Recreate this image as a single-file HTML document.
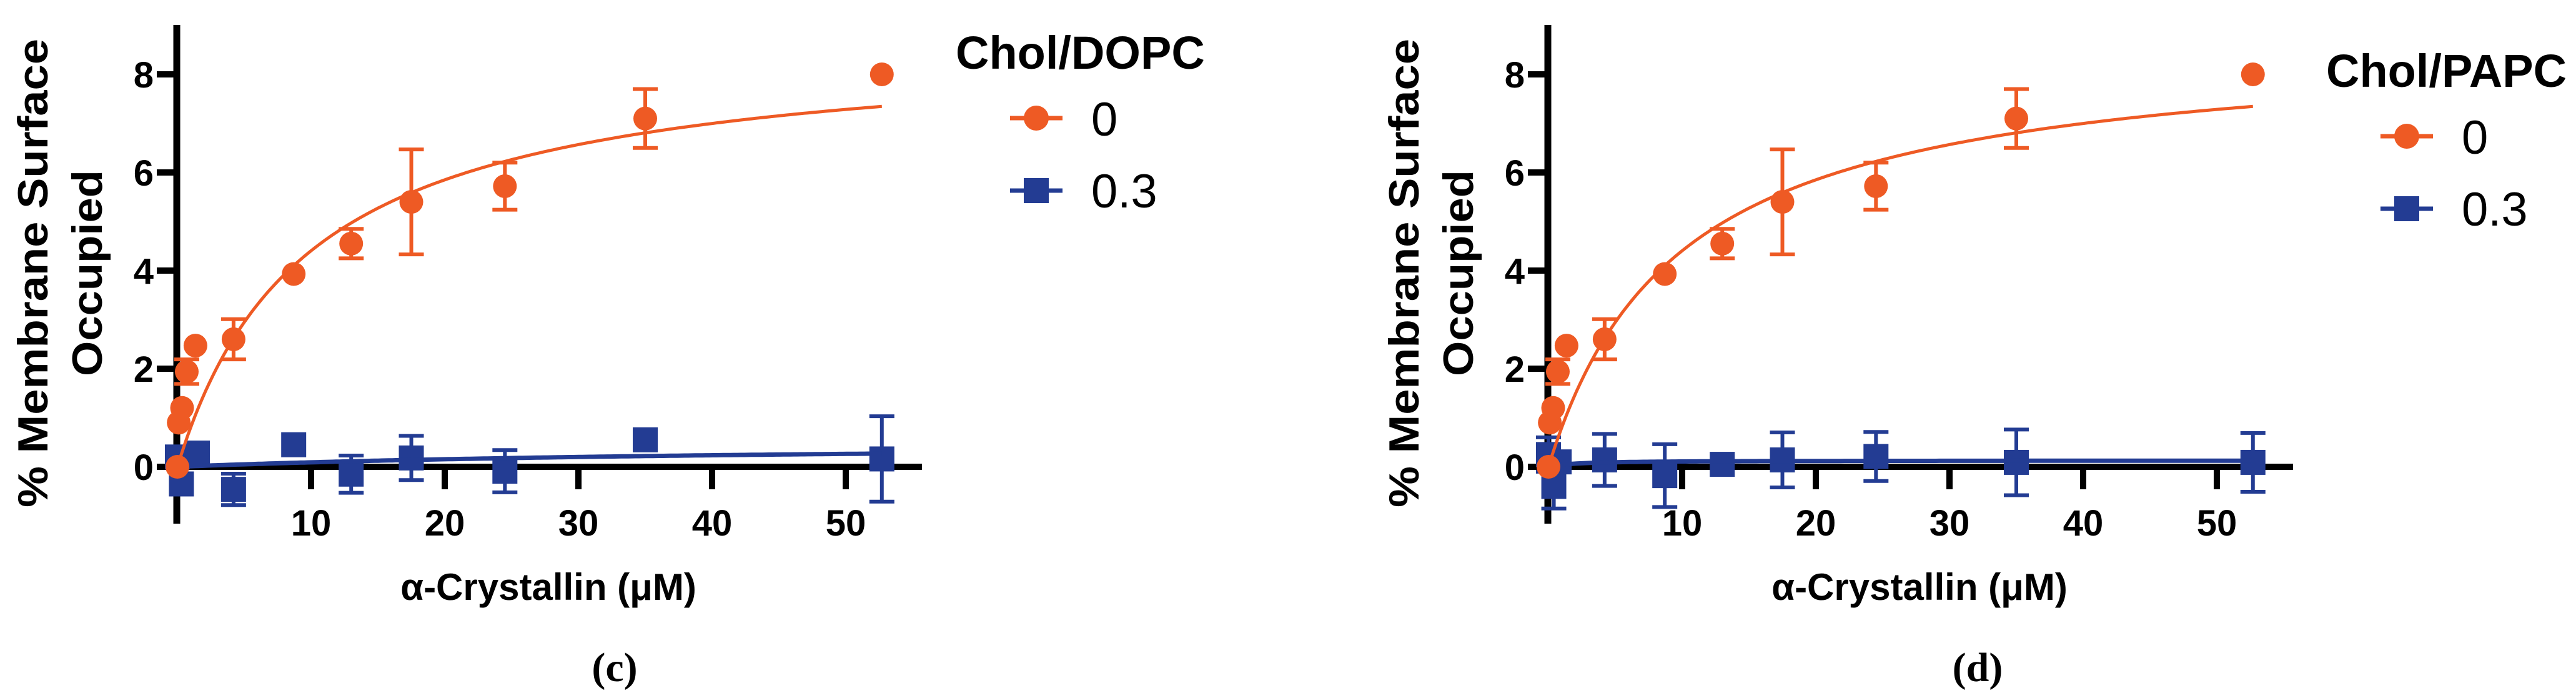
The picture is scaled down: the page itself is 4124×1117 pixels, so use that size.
<!DOCTYPE html>
<html><head><meta charset="utf-8"><style>
html,body{margin:0;padding:0;background:#fff;}
svg{display:block;}
text{font-family:"Liberation Sans",sans-serif;}
</style></head><body>
<svg id="chart" width="4124" height="1117" viewBox="0 0 4124 1117" xmlns="http://www.w3.org/2000/svg"></svg>
<script>
// ---- data ----
const xTicks = [10, 20, 30, 40, 50];
const yTicks = [0, 2, 4, 6, 8];
const orangeX = [0, 0.1, 0.35, 0.7, 1.35, 4.2, 8.7, 13.0, 17.5, 24.5, 35.0, 52.7];
const orangeY = [0, 0.9, 1.2, 1.94, 2.47, 2.6, 3.93, 4.55, 5.4, 5.72, 7.1, 8.0];
const orangeErr = [0, 0, 0, 0.25, 0, 0.41, 0, 0.3, 1.07, 0.48, 0.6, 0];
const orangeFit = [8.71, 9.78]; // Bmax, Kd
const blueCX = [0, 0.3, 1.5, 4.2, 8.7, 13.0, 17.5, 24.5, 35.0, 52.7];
const blueCY = [0.2, -0.35, 0.28, -0.46, 0.45, -0.15, 0.18, -0.09, 0.55, 0.16];
const blueCErr = [0, 0, 0, 0.32, 0, 0.38, 0.45, 0.43, 0, 0.87];
const blueCFit = [0.5, 45];
const blueDX = [0, 0.4, 0.8, 4.2, 8.7, 13.0, 17.5, 24.5, 35.0, 52.7];
const blueDY = [0.25, -0.4, 0.1, 0.14, -0.18, 0.05, 0.14, 0.21, 0.09, 0.09];
const blueDErr = [0.35, 0.45, 0, 0.53, 0.64, 0, 0.56, 0.5, 0.67, 0.6];
const blueDFit = [0.13, 2];
const legendTitles = ["Chol/DOPC", "Chol/PAPC"];
const legendLabels = ["0", "0.3"];
const captions = ["(c)", "(d)"];

const ORANGE = "#ee5a24", BLUE = "#233c93";
const svg = document.getElementById('chart');
const NS = "http://www.w3.org/2000/svg";
function mk(tag, attrs, parent, txt) {
  const e = document.createElementNS(NS, tag);
  for (const k in attrs) e.setAttribute(k, attrs[k]);
  if (txt !== undefined) e.textContent = txt;
  (parent || svg).appendChild(e);
  return e;
}

function panel(i, dx, ldy, bX, bY, bErr, bFit) {
  const g = mk('g', {});
  
  
  const X = v => dx + 284 + v * 21.4;
  const Y = v => 747 - v * 78.5;
  // axes
  const ya = mk('line', {x1: X(0) - 1, y1: 40, x2: X(0) - 1, y2: 838, stroke: '#000', 'stroke-width': 11}, g);
  
  
  const xa = mk('line', {x1: X(0) - 6, y1: Y(0), x2: dx + 1476, y2: Y(0), stroke: '#000', 'stroke-width': 10}, g);
  
  
  yTicks.forEach(t => {
    mk('line', {x1: X(0) - 33, y1: Y(t), x2: X(0), y2: Y(t), stroke: '#000', 'stroke-width': 10}, g);
    const lb = mk('text', {x: X(0) - 38, y: Y(t) + 21, 'text-anchor': 'end', 'font-size': 58, 'font-weight': 'bold'}, g, String(t));
    
    
  });
  xTicks.forEach(t => {
    mk('line', {x1: X(t), y1: Y(0), x2: X(t), y2: 783, stroke: '#000', 'stroke-width': 10}, g);
    const lb = mk('text', {x: X(t), y: 857, 'text-anchor': 'middle', 'font-size': 58, 'font-weight': 'bold'}, g, String(t));
    
    
  });
  // titles
  const xt = mk('text', {x: dx + 878, y: 960, 'text-anchor': 'middle', 'font-size': 60, 'font-weight': 'bold'}, g, 'α-Crystallin (μM)');
  
  
  const yt1 = mk('text', {transform: `translate(${dx + 76},437) rotate(-90)`, 'text-anchor': 'middle', 'font-size': 68, 'font-weight': 'bold', textLength: 750, lengthAdjust: 'spacingAndGlyphs'}, g, '% Membrane Surface');
  
  
  const yt2 = mk('text', {transform: `translate(${dx + 163},437) rotate(-90)`, 'text-anchor': 'middle', 'font-size': 68, 'font-weight': 'bold', textLength: 330, lengthAdjust: 'spacingAndGlyphs'}, g, 'Occupied');
  
  
  // fit curves
  function fit(p, color, w, name) {
    let d = '';
    for (let k = 0; k <= 200; k++) {
      const x = 52.7 * k / 200;
      const y = p[0] * x / (p[1] + x);
      d += (k ? 'L' : 'M') + X(x).toFixed(1) + ',' + Y(y).toFixed(1);
    }
    const pth = mk('path', {d: d, fill: 'none', stroke: color, 'stroke-width': w}, g);
    
    
  }
  function errs(xs, ys, es, color) {
    xs.forEach((x, k) => {
      if (!es[k]) return;
      const cx = X(x), t = Y(ys[k] + es[k]), b = Y(ys[k] - es[k]);
      const eb = mk('path', {d: `M${cx},${t}V${b}M${cx - 20},${t}H${cx + 20}M${cx - 20},${b}H${cx + 20}`, stroke: color, 'stroke-width': 6, fill: 'none'}, g);
      
      
    });
  }
  errs(bX, bY, bErr, BLUE);
  bX.forEach((x, k) => {
    const r = mk('rect', {x: X(x) - 20, y: Y(bY[k]) - 20, width: 40, height: 40, fill: BLUE}, g);
    
    
  });
  fit(bFit, BLUE, 7, 'fit-line-chol-0.3');
  errs(orangeX, orangeY, orangeErr, ORANGE);
  fit(orangeFit, ORANGE, 5, 'fit-line-chol-0');
  orangeX.forEach((x, k) => {
    const c = mk('circle', {cx: X(x), cy: Y(orangeY[k]), r: 19, fill: ORANGE}, g);
    
    
  });
  // legend
  const lx = dx + (i ? 2194 : 0), ly = ldy;
  const lg = mk('g', {}, g);
  
  
  const lt = mk('text', {x: 1530 + lx - dx, y: 110 + ly, 'font-size': 74, 'font-weight': 'bold'}, lg, legendTitles[i]);
  
  
  const bx = 1530 + lx - dx;
  mk('line', {x1: bx + 87, y1: 189 + ly, x2: bx + 171, y2: 189 + ly, stroke: ORANGE, 'stroke-width': 7}, lg);
  const lc = mk('circle', {cx: bx + 129, cy: 189 + ly, r: 20, fill: ORANGE}, lg);
  
  
  const l0 = mk('text', {x: bx + 217, y: 217 + ly, 'font-size': 76}, lg, legendLabels[0]);
  
  
  mk('line', {x1: bx + 87, y1: 305 + ly, x2: bx + 171, y2: 305 + ly, stroke: BLUE, 'stroke-width': 7}, lg);
  const ls = mk('rect', {x: bx + 109, y: 285 + ly, width: 40, height: 40, fill: BLUE}, lg);
  
  
  const l1 = mk('text', {x: bx + 217, y: 332 + ly, 'font-size': 76}, lg, legendLabels[1]);
  
  
  // caption
  const cap = mk('text', {x: dx + (i ? 971 : 984), y: 1090, 'text-anchor': 'middle', 'font-size': 66, 'font-weight': 'bold', 'font-family': '"Liberation Serif", serif', style: 'font-family:"Liberation Serif",serif'}, g, captions[i]);
  
  
}
panel(0, 0, 0, blueCX, blueCY, blueCErr, blueCFit);
panel(1, 2195, 29, blueDX, blueDY, blueDErr, blueDFit);
</script>
</body></html>
